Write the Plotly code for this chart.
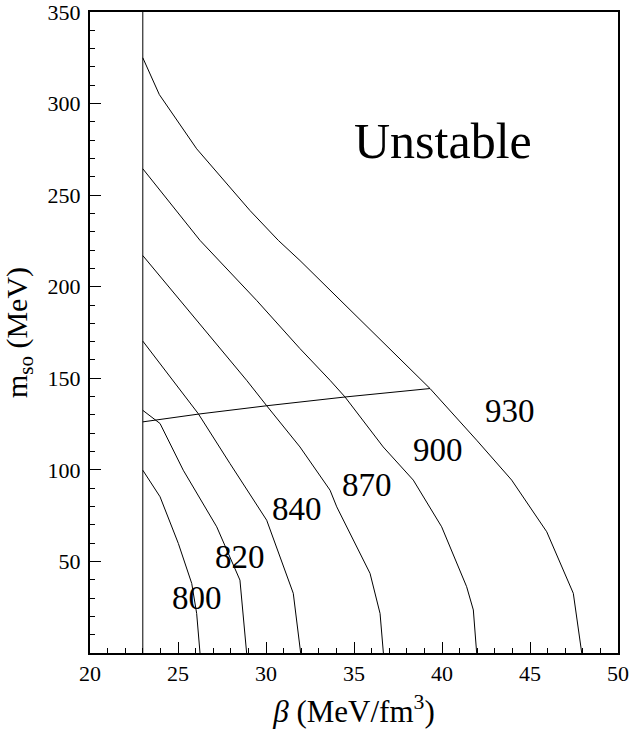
import plotly.graph_objects as go

# Curves labelled by value; beta (MeV/fm^3) vs m_so (MeV)
labels = ["800", "820", "840", "870", "900", "930"]

beta_800 = [23.0, 23.98, 25.02, 25.78, 26.06, 26.25]
mso_800 = [99.8, 85.3, 59.8, 38.0, 21.6, 0.0]

beta_820 = [23.0, 23.98, 25.30, 27.20, 28.52, 28.90]
mso_820 = [132.5, 125.3, 99.8, 68.9, 39.8, 0.0]

beta_840 = [23.0, 24.73, 26.15, 27.95, 30.04, 31.55, 31.97]
mso_840 = [170.3, 148.9, 130.7, 103.5, 72.5, 32.6, 0.0]

beta_870 = [23.0, 25.11, 28.90, 30.04, 31.93, 33.64, 34.02, 35.91, 36.48, 36.67]
mso_870 = [217.0, 192.5, 148.9, 135.0, 112.5, 88.9, 79.8, 43.5, 21.6, 0.0]

beta_900 = [23.0, 26.25, 29.47, 31.93, 33.64, 34.49, 36.66, 38.37, 39.98, 41.40, 41.78, 41.97]
mso_900 = [264.4, 225.3, 192.5, 166.2, 148.9, 139.8, 112.5, 94.4, 68.9, 36.2, 23.5, 0.0]

beta_930 = [23.0, 23.94, 26.06, 29.09, 30.70, 31.93, 39.32, 41.97, 43.96, 45.95, 47.46, 47.94]
mso_930 = [325.0, 304.9, 275.3, 241.6, 225.3, 214.3, 144.4, 116.2, 94.4, 66.2, 32.6, 0.0]

# Stability boundary line
beta_bound = [23.0, 26.2, 30.04, 34.5, 39.32]
mso_bound = [126.2, 130.5, 135.0, 139.8, 144.4]

# Vertical line at beta = 23
beta_vert = [23.0, 23.0]
mso_vert = [0.0, 350.0]

# Curve label anchor points
label_beta = [26.06, 28.52, 31.74, 35.72, 39.79, 43.86]
label_mso = [29.8, 52.5, 78.9, 91.6, 110.7, 132.1]

region_text = "Unstable"
region_beta = 40.06
region_mso = 279.8

x_ticks = [20, 25, 30, 35, 40, 45, 50]
y_ticks = [50, 100, 150, 200, 250, 300, 350]

FONT = "Liberation Serif"

curves_x = [beta_800, beta_820, beta_840, beta_870, beta_900, beta_930]
curves_y = [mso_800, mso_820, mso_840, mso_870, mso_900, mso_930]

fig = go.Figure()
for name, xs, ys in zip(labels, curves_x, curves_y):
    fig.add_trace(go.Scatter(x=xs, y=ys, mode="lines", name=name,
                             line=dict(color="black", width=1)))
fig.add_trace(go.Scatter(x=beta_bound, y=mso_bound, mode="lines",
                         line=dict(color="black", width=1)))
fig.add_trace(go.Scatter(x=beta_vert, y=mso_vert, mode="lines",
                         line=dict(color="black", width=1)))

for t, bx, my in zip(labels, label_beta, label_mso):
    fig.add_annotation(x=bx, y=my, text=t, showarrow=False,
                       font=dict(family=FONT, size=33, color="black"))

fig.add_annotation(x=region_beta, y=region_mso, text=region_text, showarrow=False,
                   font=dict(family=FONT, size=50, color="black"))

fig.update_layout(
    width=629, height=739,
    margin=dict(l=90, r=11, t=12, b=86),
    plot_bgcolor="white", paper_bgcolor="white",
    showlegend=False,
    font=dict(family=FONT, color="black", size=22),
)
fig.update_xaxes(
    range=[20, 50], tickvals=x_ticks, ticks="inside", ticklen=11, tickwidth=1,
    tickcolor="black", showline=True, linecolor="black", linewidth=2, mirror=True,
    showgrid=False, zeroline=False, automargin=False, ticklabeloverflow="allow",
    minor=dict(ticks="inside", ticklen=5, dtick=1, tick0=20, tickcolor="black", showgrid=False),
    tickfont=dict(family=FONT, size=22, color="black"),
    title=dict(text="<i>β</i> (MeV/fm<sup>3</sup>)", font=dict(family=FONT, size=31)),
)
fig.update_yaxes(
    range=[0, 350], tickvals=y_ticks, ticks="inside", ticklen=11, tickwidth=1,
    tickcolor="black", showline=True, linecolor="black", linewidth=2, mirror=True,
    showgrid=False, zeroline=False, automargin=False, ticklabelstandoff=3,
    ticklabeloverflow="allow",
    minor=dict(ticks="inside", ticklen=5, dtick=10, tick0=0, tickcolor="black", showgrid=False),
    tickfont=dict(family=FONT, size=22, color="black"),
    title=dict(text="m<sub>so</sub> (MeV)", font=dict(family=FONT, size=30)),
)

fig.write_html("out.html", config={"displayModeBar": False},
               post_script="document.body.style.margin='0px';document.body.style.overflow='hidden';")
